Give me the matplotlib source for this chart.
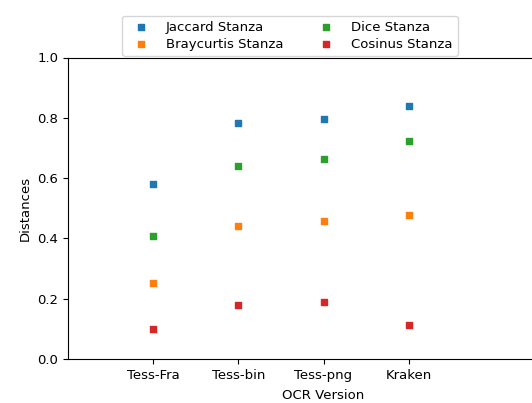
import matplotlib
matplotlib.use("Agg")
import matplotlib.pyplot as plt

versions = ["Tess-Fra", "Tess-bin", "Tess-png", "Kraken"]
jaccard = [0.580, 0.784, 0.797, 0.840]
braycurtis = [0.253, 0.442, 0.457, 0.479]
dice = [0.409, 0.640, 0.663, 0.724]
cosinus = [0.100, 0.179, 0.188, 0.114]

plt.rcParams["font.size"] = 9.5


def main():
    fig = plt.figure(figsize=(5.32, 4.03), dpi=100)
    # axes runs past the right edge of the picture, like the original crop
    ax = fig.add_axes([68 / 532, 44 / 403, 511 / 532, 301.5 / 403])

    x = list(range(len(versions)))
    ax.scatter(x, jaccard, marker="s", s=20, color="tab:blue", label="Jaccard Stanza")
    ax.scatter(x, braycurtis, marker="s", s=20, color="tab:orange", label="Braycurtis Stanza")
    ax.scatter(x, dice, marker="s", s=20, color="tab:green", label="Dice Stanza")
    ax.scatter(x, cosinus, marker="s", s=20, color="tab:red", label="Cosinus Stanza")

    ax.set_xlim(-1, 5)
    ax.set_ylim(0, 1.0)
    ax.set_xticks(x)
    ax.set_xticklabels(versions)
    ax.set_xlabel("OCR Version", labelpad=5)
    ax.set_ylabel("Distances")

    handles, labels = ax.get_legend_handles_labels()
    fig.legend(handles, labels, ncol=2, loc="upper center",
               bbox_to_anchor=(290 / 532, 1 - 9 / 403),
               columnspacing=2.2, handletextpad=0.9, borderpad=0.4,
               labelspacing=0.3)

    fig.savefig("out.png", dpi=100)
    plt.close(fig)


if __name__ == "__main__":
    main()
